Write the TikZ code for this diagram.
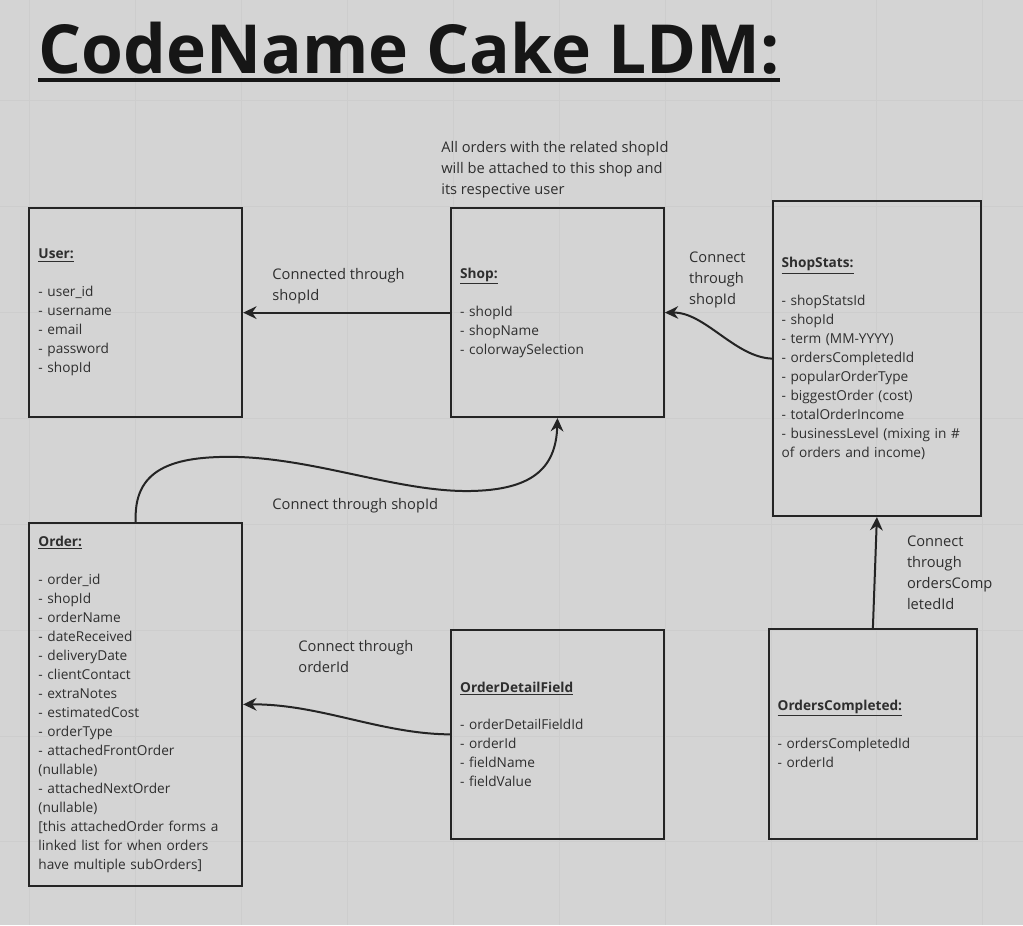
\documentclass[tikz,border=0pt]{standalone}
\usepackage{fontspec}
\setmainfont{Open Sans}
\usetikzlibrary{arrows.meta}
\definecolor{bg}{RGB}{212,212,212}
\definecolor{gridc}{RGB}{205,205,205}
\definecolor{ink}{RGB}{36,36,36}
\definecolor{txt}{RGB}{46,46,46}
\definecolor{titlec}{RGB}{22,22,22}
\newcommand{\hdr}[1]{\textbf{\underline{#1}}}
\begin{document}
\begin{tikzpicture}[x=0.75pt,y=-0.75pt,
  entity/.style={draw=ink, line width=1.5pt, anchor=north west, align=left,
    inner xsep=6.6pt, inner ysep=0pt, text=txt,
    font=\fontsize{10.25}{14.25}\selectfont},
  lbl/.style={anchor=west, align=left, inner sep=0pt, text=txt,
    font=\fontsize{11}{15.75}\selectfont},
  conn/.style={draw=ink, line width=1.5pt, -{Stealth[length=10pt,width=9.5pt]}}]
% background and grid
\fill[bg] (0,0) rectangle (1023,925);
\foreach \gx in {29,135,241,347,453,559,665,771,877,983}
  \draw[gridc, line width=0.5pt] (\gx,0) -- (\gx,925);
\foreach \gy in {100,206,312,418,524,630,736,842}
  \draw[gridc, line width=0.5pt] (0,\gy) -- (1023,\gy);
% title
\node[anchor=base west, inner sep=0pt, text=titlec,
  font=\fontsize{50.8}{58}\selectfont\bfseries] (title) at (38,73) {CodeName Cake LDM:};
\draw[titlec, line width=3pt] ([yshift=-5.3pt]title.base west) -- ([yshift=-5.3pt]title.base east);
% entities
\node[entity, minimum width=159.75pt, minimum height=156.75pt, text width=146pt] (user) at (28,207)
 {\hdr{User:}\\[14.25pt]- user\_id\\- username\\- email\\- password\\- shopId};
\node[entity, minimum width=159.75pt, minimum height=156.75pt, text width=146pt] (shop) at (450,207)
 {\hdr{Shop:}\\[14.25pt]- shopId\\- shopName\\- colorwaySelection};
\node[entity, minimum width=156pt, minimum height=236.25pt, text width=143pt] (stats) at (772,200)
 {\hdr{ShopStats:}\\[14.25pt]- shopStatsId\\- shopId\\- term (MM-YYYY)\\- ordersCompletedId\\- popularOrderType\\- biggestOrder (cost)\\- totalOrderIncome\\- businessLevel (mixing in \#\\of orders and income)};
\node[entity, minimum width=159.75pt, minimum height=272.25pt, text width=146pt] (order) at (28,522)
 {\hdr{Order:}\\[14.25pt]- order\_id\\- shopId\\- orderName\\- dateReceived\\- deliveryDate\\- clientContact\\- extraNotes\\- estimatedCost\\- orderType\\- attachedFrontOrder\\(nullable)\\- attachedNextOrder\\(nullable)\\{[}this attachedOrder forms a\\linked list for when orders\\have multiple subOrders{]}};
\node[entity, minimum width=159.75pt, minimum height=156.75pt, text width=146pt] (odf) at (450,629)
 {\hdr{OrderDetailField}\\[14.25pt]- orderDetailFieldId\\- orderId\\- fieldName\\- fieldValue};
\node[entity, minimum width=156pt, minimum height=157.5pt, text width=143pt] (oc) at (768,628)
 {\hdr{OrdersCompleted:}\\[14.25pt]- ordersCompletedId\\- orderId};
% annotations
\node[lbl] (note) at (441,169) {All orders with the related shopId\\will be attached to this shop and\\its respective user};
\node[lbl] (l1) at (272,286) {Connected through\\shopId};
\node[lbl] (l2) at (689,280) {Connect\\through\\shopId};
\node[lbl] (l3) at (272,506) {Connect through shopId};
\node[lbl] (l4) at (298,657) {Connect through\\orderId};
\node[lbl] (l5) at (907,573) {Connect\\through\\ordersComp\\letedId};
% connectors
\draw[conn] (shop.west) -- (user.east);
\draw[conn] (stats.west) .. controls (735,357) and (705,312) .. (shop.east);
\draw[conn] (order.north) .. controls (133,470) and (170,455) .. (240,457)
  .. controls (320,460) and (400,492) .. (470,491)
  .. controls (530,490) and (556,470) .. (shop.south);
\draw[conn] (odf.west) .. controls (380,734) and (320,704) .. (order.east);
\draw[conn] (oc.north) -- (stats.south);
\end{tikzpicture}
\end{document}
